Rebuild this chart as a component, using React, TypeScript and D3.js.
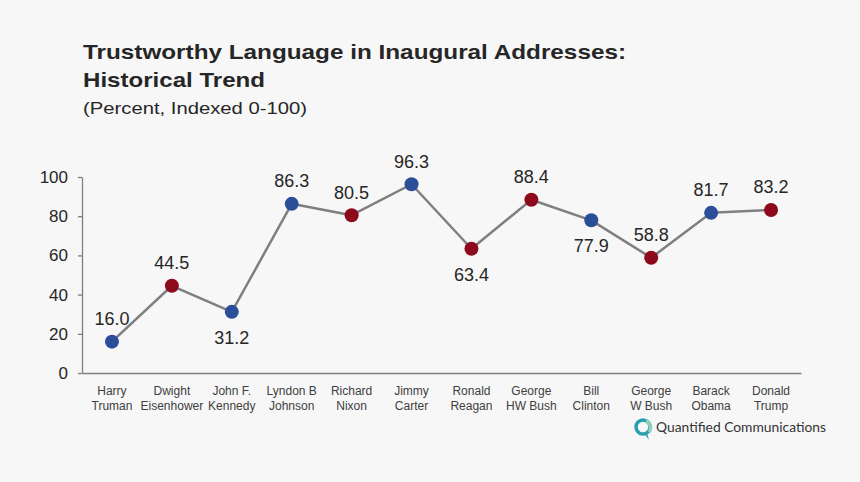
import * as d3 from 'd3';
import { useEffect, useRef } from 'react';

const presidents = [
  ['Harry', 'Truman'],
  ['Dwight', 'Eisenhower'],
  ['John F.', 'Kennedy'],
  ['Lyndon B', 'Johnson'],
  ['Richard', 'Nixon'],
  ['Jimmy', 'Carter'],
  ['Ronald', 'Reagan'],
  ['George', 'HW Bush'],
  ['Bill', 'Clinton'],
  ['George', 'W Bush'],
  ['Barack', 'Obama'],
  ['Donald', 'Trump'],
];
const scores = [16.0, 44.5, 31.2, 86.3, 80.5, 96.3, 63.4, 88.4, 77.9, 58.8, 81.7, 83.2];
const parties = ['D', 'R', 'D', 'D', 'R', 'D', 'R', 'R', 'D', 'R', 'D', 'R'];
const labelBelow = [false, false, true, false, false, false, true, false, true, false, false, false];
const yTicks = [0, 20, 40, 60, 80, 100];

const FONT = '"Liberation Sans", Arial, sans-serif';

const drawChart = (container: HTMLElement) => {
  const width = 860;
  const height = 482;
  const left = 82;
  const right = 801;
  const top = 177;
  const bottom = 373;

  const x = d3.scaleBand<number>().domain(d3.range(scores.length)).range([left, right]);
  const y = d3.scaleLinear().domain([0, 100]).range([bottom, top]);
  const cx = (i: number) => (x(i) as number) + x.bandwidth() / 2;

  const svg = d3.select(container).append('svg')
    .attr('width', width)
    .attr('height', height)
    .attr('viewBox', `0 0 ${width} ${height}`)
    .style('display', 'block')
    .style('font-family', FONT);

  svg.append('rect').attr('width', width).attr('height', height).attr('fill', '#f7f7f7');

  // title (the original is stretched a little horizontally)
  const title = svg.append('g').attr('fill', '#262626');
  title.append('text').attr('x', 83).attr('y', 59)
    .attr('font-size', 21).attr('font-weight', 'bold')
    .attr('textLength', 543).attr('lengthAdjust', 'spacingAndGlyphs')
    .text('Trustworthy Language in Inaugural Addresses:');
  title.append('text').attr('x', 83).attr('y', 87)
    .attr('font-size', 21).attr('font-weight', 'bold')
    .attr('textLength', 182).attr('lengthAdjust', 'spacingAndGlyphs')
    .text('Historical Trend');
  title.append('text').attr('x', 83).attr('y', 114)
    .attr('font-size', 17)
    .attr('textLength', 224).attr('lengthAdjust', 'spacingAndGlyphs')
    .text('(Percent, Indexed 0-100)');

  // y axis
  const yAxis = d3.axisLeft(y).tickValues(yTicks).tickSize(4).tickSizeOuter(0).tickPadding(10);
  const ya = svg.append('g').attr('transform', `translate(${left},0)`).call(yAxis);
  ya.select('.domain').attr('stroke', '#7f7f7f').attr('stroke-width', 1.3);
  ya.selectAll('.tick line').attr('stroke', '#7f7f7f').attr('stroke-width', 1.3);
  ya.selectAll('.tick text')
    .attr('font-family', FONT).attr('font-size', 17).attr('fill', '#262626');

  // x axis
  const xAxis = d3.axisBottom(x).tickSize(0).tickSizeOuter(0).tickFormat(() => '');
  const xa = svg.append('g').attr('transform', `translate(0,${bottom})`).call(xAxis);
  xa.select('.domain').attr('stroke', '#7f7f7f').attr('stroke-width', 1.3);

  const xl = svg.append('g').attr('font-size', 12).attr('fill', '#404040').attr('text-anchor', 'middle');
  presidents.forEach((p, i) => {
    const t = xl.append('text').attr('x', cx(i)).attr('y', 395);
    t.append('tspan').attr('x', cx(i)).text(p[0]);
    t.append('tspan').attr('x', cx(i)).attr('dy', 15).text(p[1]);
  });

  // line
  const line = d3.line<number>().x(i => cx(i)).y(i => y(scores[i]));
  svg.append('path')
    .attr('fill', 'none')
    .attr('stroke', '#7f7f7f')
    .attr('stroke-width', 2.5)
    .attr('stroke-linejoin', 'round')
    .attr('d', line(d3.range(scores.length)));

  // markers
  svg.append('g').selectAll('circle').data(scores).join('circle')
    .attr('cx', (d, i) => cx(i))
    .attr('cy', d => y(d))
    .attr('r', 7)
    .attr('fill', (d, i) => (parties[i] === 'D' ? '#2a4e98' : '#8c0a1c'));

  // data labels
  svg.append('g').selectAll('text').data(scores).join('text')
    .attr('x', (d, i) => cx(i))
    .attr('y', (d, i) => y(d) + (labelBelow[i] ? 32 : -16.5))
    .attr('text-anchor', 'middle')
    .attr('font-size', 18)
    .attr('fill', '#262626')
    .text(d => d.toFixed(1));

  // logo
  const logo = svg.append('g').attr('transform', 'translate(643,427)');
  logo.append('circle').attr('r', 7).attr('fill', 'none').attr('stroke', '#2a9fb0').attr('stroke-width', 3.5);
  logo.append('path').attr('d', 'M1,6 L6,13 L4,6 Z').attr('fill', '#2a9fb0');
  logo.append('path').attr('d', 'M3,-6 A7,7 0 0 1 6,5').attr('fill', 'none').attr('stroke', '#8fd0b8').attr('stroke-width', 3.5);
  svg.append('text').attr('x', 656).attr('y', 432)
    .attr('font-family', 'Lato, "Open Sans", sans-serif')
    .attr('font-size', 14).attr('fill', '#333333')
    .attr('textLength', 170).attr('lengthAdjust', 'spacingAndGlyphs')
    .text('Quantified Communications');

  return svg.node();
};

export default function App() {
  const domRef = useRef<HTMLDivElement>(null);
  useEffect(() => {
    document.body.style.margin = '0';
    if (domRef.current) {
      drawChart(domRef.current);
    }
    return () => {
      d3.select(domRef.current).selectAll('svg').remove();
    };
  }, []);
  return <div ref={domRef}></div>;
}
